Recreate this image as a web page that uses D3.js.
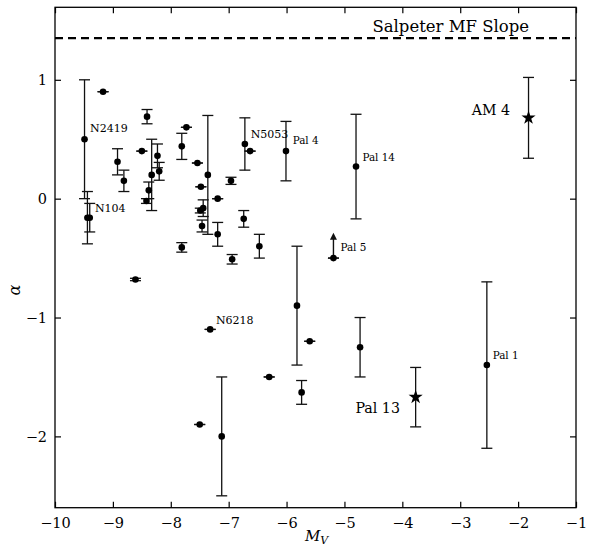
<!DOCTYPE html>
<html>
<head>
<meta charset="utf-8">
<script src="https://cdn.jsdelivr.net/npm/d3@7"></script>
<style>
  body { margin: 0; background: #fff; }
  text { font-family: "DejaVu Serif", serif; fill: #000; }
</style>
</head>
<body>
<svg id="chart" width="590" height="548"></svg>
<script>
// cluster values: absolute magnitude, MF slope and its error
var mvVals    = [-9.49, -9.44, -9.40, -9.17, -8.92, -8.81, -8.41, -8.50, -8.42, -8.38,
                 -8.33, -8.23, -8.20, -8.61, -7.81, -7.73, -7.81, -7.54, -7.48, -7.49,
                 -7.44, -7.46, -7.36, -7.19, -7.19, -6.96, -6.94, -6.72, -6.63, -6.74,
                 -6.47, -6.01, -7.32, -7.50, -7.12, -6.30, -5.82, -5.60, -5.74, -4.73,
                 -4.80, -2.54];
var alphaVals = [0.50, -0.16, -0.16, 0.90, 0.31, 0.15, 0.69, 0.40, -0.02, 0.07,
                 0.20, 0.36, 0.23, -0.68, 0.44, 0.60, -0.41, 0.30, 0.10, -0.10,
                 -0.08, -0.23, 0.20, 0.00, -0.30, 0.15, -0.51, 0.46, 0.40, -0.17,
                 -0.40, 0.40, -1.10, -1.90, -2.00, -1.50, -0.90, -1.20, -1.63, -1.25,
                 0.27, -1.40];
var alphaErr  = [0.50, 0.22, 0.12, 0.00, 0.11, 0.09, 0.06, 0.00, 0.02, 0.07,
                 0.30, 0.10, 0.075, 0.01, 0.11, 0.00, 0.04, 0.00, 0.00, 0.02,
                 0.07, 0.05, 0.50, 0.00, 0.10, 0.03, 0.04, 0.22, 0.00, 0.07,
                 0.10, 0.25, 0.00, 0.00, 0.50, 0.00, 0.50, 0.00, 0.10, 0.25,
                 0.44, 0.70];

// the two star-marked clusters
var starNames = ["AM 4", "Pal 13"];
var starMv    = [-1.82, -3.77];
var starAlpha = [0.68, -1.67];
var starErr   = [0.34, 0.25];

// Pal 5 is a lower limit
var limitMv = [-5.19];
var limitAlpha = [-0.50];
var limitTo = [-0.30];

var salpeter = 1.35;

var labelNames = ["N2419", "N104", "N5053", "Pal 4", "Pal 14", "Pal 5", "AM 4", "N6218", "Pal 13", "Pal 1"];
var labelMv    = [-9.395, -9.31, -6.62, -5.895, -4.69, -5.07, -2.80, -7.22, -4.81, -2.44];
var labelAlpha = [0.56, -0.112, 0.513, 0.46, 0.32, -0.438, 0.70, -1.055, -1.80, -1.35];

var xTicks = [-10, -9, -8, -7, -6, -5, -4, -3, -2, -1];
var yTicks = [-2, -1, 0, 1];

var svg = d3.select("#chart");
var pLeft = 55, pRight = 576, pTop = 7.3, pBottom = 507.7;

var x = d3.scaleLinear().domain([-10, -1]).range([pLeft, pRight]);
var y = d3.scaleLinear().domain([-2.6, 1.61]).range([pBottom, pTop]);

var fmt = function (d) { return d < 0 ? "\u2212" + Math.abs(d) : "" + d; };

// axes with inward ticks on all four sides
svg.append("g").attr("transform", "translate(0," + pBottom + ")")
    .call(d3.axisBottom(x).tickValues(xTicks).tickSizeInner(-6).tickSizeOuter(0).tickPadding(10).tickFormat(fmt));
svg.append("g").attr("transform", "translate(0," + pTop + ")")
    .call(d3.axisTop(x).tickValues(xTicks).tickSizeInner(-6).tickSizeOuter(0).tickFormat(""));
svg.append("g").attr("transform", "translate(" + pLeft + ",0)")
    .call(d3.axisLeft(y).tickValues(yTicks).tickSizeInner(-6).tickSizeOuter(0).tickPadding(8).tickFormat(fmt));
svg.append("g").attr("transform", "translate(" + pRight + ",0)")
    .call(d3.axisRight(y).tickValues(yTicks).tickSizeInner(-6).tickSizeOuter(0).tickFormat(""));

svg.selectAll(".domain").remove();
svg.selectAll(".tick line").attr("stroke", "#000").attr("stroke-width", 1.2);
svg.selectAll(".tick text").style("font-family", "DejaVu Serif, serif").style("font-size", "14.5px").attr("fill", "#000");

svg.append("rect")
    .attr("x", pLeft).attr("y", pTop)
    .attr("width", pRight - pLeft).attr("height", pBottom - pTop)
    .attr("fill", "none").attr("stroke", "#000").attr("stroke-width", 1.3);

// Salpeter line
svg.append("line")
    .attr("x1", pLeft).attr("x2", pRight)
    .attr("y1", y(salpeter)).attr("y2", y(salpeter))
    .attr("stroke", "#000").attr("stroke-width", 2.2)
    .attr("stroke-dasharray", "8,5");
svg.append("text")
    .attr("x", x(-1.81)).attr("y", y(1.403))
    .attr("text-anchor", "end")
    .style("font-size", "16.5px")
    .text("Salpeter MF Slope");

var cap = 5.5;
function errorBar(g, mv, a, e) {
    g.append("line")
        .attr("x1", x(mv)).attr("x2", x(mv))
        .attr("y1", y(a - e)).attr("y2", y(a + e))
        .attr("stroke", "#111").attr("stroke-width", 1.3);
    [a - e, a + e].forEach(function (v) {
        g.append("line")
            .attr("x1", x(mv) - cap).attr("x2", x(mv) + cap)
            .attr("y1", y(v)).attr("y2", y(v))
            .attr("stroke", "#111").attr("stroke-width", 1.3);
    });
}

var gErr = svg.append("g");
mvVals.forEach(function (mv, i) { errorBar(gErr, mv, alphaVals[i], alphaErr[i]); });
starMv.forEach(function (mv, i) { errorBar(gErr, mv, starAlpha[i], starErr[i]); });
limitMv.forEach(function (mv, i) {
    errorBar(gErr, mv, limitAlpha[i], 0);
    gErr.append("line")
        .attr("x1", x(mv)).attr("x2", x(mv))
        .attr("y1", y(limitAlpha[i])).attr("y2", y(limitTo[i]) + 4)
        .attr("stroke", "#111").attr("stroke-width", 1.4);
    gErr.append("path")
        .attr("d", "M" + x(mv) + "," + (y(limitTo[i]) - 1.5) +
                   "l3.5,7h-7z")
        .attr("fill", "#111");
});

var allMv = mvVals.concat(limitMv);
var allAlpha = alphaVals.concat(limitAlpha);
svg.append("g").selectAll("circle")
    .data(allMv)
    .enter().append("circle")
    .attr("cx", function (d) { return x(d); })
    .attr("cy", function (d, i) { return y(allAlpha[i]); })
    .attr("r", 3.3)
    .attr("fill", "#000");

svg.append("g").selectAll("path")
    .data(starMv)
    .enter().append("path")
    .attr("d", d3.symbol().type(d3.symbolStar).size(62))
    .attr("transform", function (d, i) { return "translate(" + x(d) + "," + y(starAlpha[i]) + ")"; })
    .attr("fill", "#000");

// cluster names
svg.append("g").selectAll("text")
    .data(labelNames)
    .enter().append("text")
    .attr("x", function (d, i) { return x(labelMv[i]); })
    .attr("y", function (d, i) { return y(labelAlpha[i]); })
    .style("font-size", function (d) {
        if (starNames.indexOf(d) != -1) return "14.2px";
        return d.indexOf("Pal") == 0 ? "10.4px" : "11px";
    })
    .text(function (d) { return d; });

// axis titles
svg.append("text")
    .attr("transform", "translate(20,290) rotate(-90)")
    .attr("text-anchor", "middle")
    .style("font-size", "16px").style("font-style", "italic")
    .text("\u03b1");

var xl = svg.append("text")
    .attr("x", 305).attr("y", 541)
    .style("font-size", "15px").style("font-style", "italic");
xl.append("tspan").text("M");
xl.append("tspan").attr("dy", 3).style("font-size", "11px").text("V");
</script>
</body>
</html>
